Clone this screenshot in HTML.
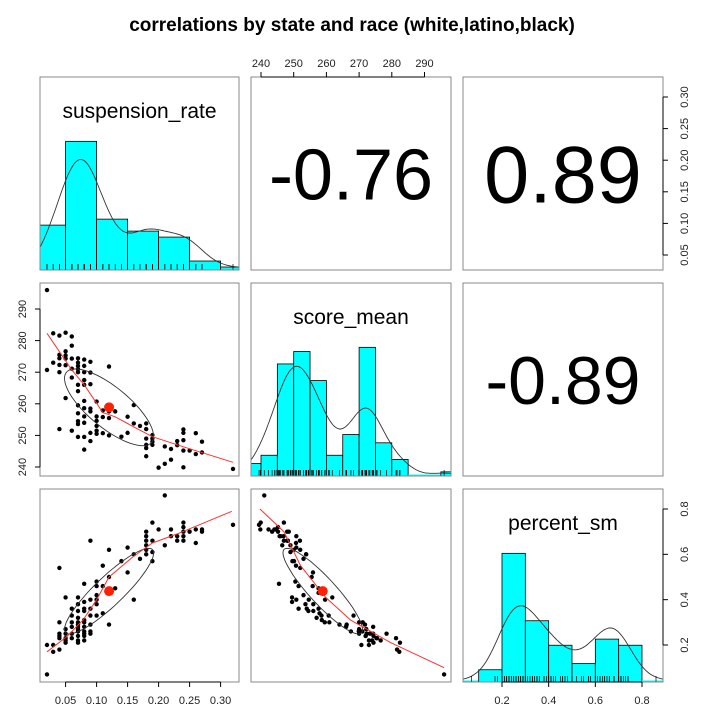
<!DOCTYPE html>
<html><head><meta charset="utf-8"><style>
html,body{margin:0;padding:0;background:#fff;}
svg{display:block;font-family:"Liberation Sans",Arial,sans-serif;}
</style></head><body>
<svg id="chart" width="703" height="714" viewBox="0 0 703 714" xmlns="http://www.w3.org/2000/svg">
<text x="352" y="31" text-anchor="middle" font-size="19" font-weight="bold" fill="#000">correlations by state and race (white,latino,black)</text>
</svg>
<script>
const susp=[0.02,0.02,0.03,0.03,0.04,0.04,0.04,0.04,0.04,0.04,0.05,0.05,0.05,0.05,0.05,0.05,0.06,0.06,0.06,0.06,0.06,0.06,
0.07,0.07,0.07,0.07,0.07,0.07,0.07,0.07,0.07,0.07,0.07,0.07,0.08,0.08,0.08,0.08,0.08,0.08,0.08,0.08,0.08,0.08,0.08,
0.09,0.09,0.09,0.09,0.09,0.09,0.09,0.10,0.10,0.10,0.10,0.10,0.10,0.11,0.11,0.11,0.12,0.12,0.12,0.12,0.13,0.14,0.15,0.15,
0.16,0.16,0.17,0.18,0.18,0.18,0.18,0.18,0.18,0.19,0.19,0.19,0.19,0.20,0.21,0.21,0.22,0.22,0.23,0.23,
0.24,0.24,0.24,0.24,0.24,0.25,0.26,0.26,0.27,0.27,0.32];
const score=[296,270.7,282.3,273,281.6,275.5,274.4,272.3,270,252,282.5,276.6,275.3,274.3,272.2,261.8,281.3,278.4,274.3,271.1,268.3,251.5,
274.4,273,272,271,270,266,264,259.5,257,254.5,253.6,249.5,274,272,270,267.5,266,260.9,258.6,256,254,249.5,245.5,
273.3,269.9,266.2,258.5,257.6,250.8,248.2,260.7,256,254.6,253,251.5,250.5,257.9,255.8,250.7,271.8,257.6,255.5,250,257.6,249.6,255.9,250.8,
259.6,253.8,253,253.8,252,249,247,246,243.4,250.1,249,248,247,239.8,246.5,241,245.7,242.3,248.2,246.9,
251.9,250.8,248.5,245.2,239.9,245.2,250.7,244.1,248,244.6,239.4];
const pct=[0.07,0.20,0.17,0.20,0.18,0.23,0.24,0.25,0.30,0.54,0.21,0.22,0.23,0.25,0.27,0.41,0.23,0.25,0.28,0.30,0.33,0.36,
0.21,0.22,0.24,0.26,0.27,0.28,0.29,0.30,0.32,0.35,0.38,0.41,0.22,0.24,0.25,0.26,0.28,0.30,0.31,0.35,0.36,0.39,0.47,
0.25,0.26,0.29,0.33,0.36,0.40,0.66,0.33,0.38,0.40,0.42,0.46,0.48,0.34,0.46,0.55,0.29,0.43,0.50,0.62,0.45,0.57,0.52,0.63,
0.40,0.60,0.58,0.60,0.62,0.64,0.66,0.68,0.70,0.57,0.61,0.66,0.74,0.71,0.64,0.86,0.68,0.71,0.66,0.68,
0.66,0.68,0.70,0.72,0.74,0.70,0.65,0.71,0.70,0.71,0.73];
const varNames=["suspension_rate","score_mean","percent_sm"];
const suspBreaks=[0,0.05,0.10,0.15,0.20,0.25,0.30,0.35];
const suspCounts=[15,43,17,13,11,3,1];
const scoreBreaks=[235,240,245,250,255,260,265,270,275,280,285,290,295,300];
const scoreCounts=[3,5,27,30,23,5,10,31,8,4,0,0,1];
const pctBreaks=[0,0.1,0.2,0.3,0.4,0.5,0.6,0.7,0.8,0.9];
const pctCounts=[0,2,21,10,6,3,7,6,0];
const corrLabels=["-0.76","0.89","-0.89"];
const loessSuspScoreX=[0.02,0.06,0.08,0.10,0.11,0.13,0.16,0.19,0.24,0.32];
const loessSuspScoreY=[282.3,270.7,266,260.2,257.2,255.9,252.7,249.6,246.4,241.5];
const loessSuspPctX=[0.02,0.052,0.078,0.10,0.12,0.159,0.19,0.23,0.318];
const loessSuspPctY=[0.17,0.237,0.31,0.40,0.50,0.59,0.65,0.69,0.79];
const loessScorePctX=[239.7,247,252.1,259.8,267.4,279.7,296];
const loessScorePctY=[0.80,0.70,0.55,0.41,0.31,0.21,0.10];
const suspTicks=[0.05,0.10,0.15,0.20,0.25,0.30];
const scoreTicks=[240,250,260,270,280,290];
const pctTicks=[0.2,0.4,0.6,0.8];

const NS="http://www.w3.org/2000/svg";
const svg=document.getElementById("chart");
function lin(a0,a1,p0,p1){return v=>p0+(v-a0)*(p1-p0)/(a1-a0);}
const X=[lin(0.05,0.30,65.6,220.6),lin(240,290,261,424.5),lin(0.2,0.8,502,642)];
const Y=[lin(0.05,0.30,255,97),lin(240,290,467,309),lin(0.2,0.8,645,509)];
const cols=[[40,239],[251,451],[463,663]];
const rows=[[77,270],[283,476],[489,682]];
const data=[susp,score,pct];
function mk(tag,attrs,parent){const e=document.createElementNS(NS,tag);for(const k in attrs)e.setAttribute(k,attrs[k]);(parent||svg).appendChild(e);return e;}
const defs=mk("defs",{});
for(let r=0;r<3;r++)for(let c=0;c<3;c++){const cp=mk("clipPath",{id:"cp"+r+c},defs);mk("rect",{x:cols[c][0],y:rows[r][0],width:cols[c][1]-cols[c][0],height:rows[r][1]-rows[r][0]},cp);}
function mean(a){return a.reduce((s,v)=>s+v,0)/a.length;}
function sd(a){const m=mean(a);return Math.sqrt(a.reduce((s,v)=>s+(v-m)*(v-m),0)/(a.length-1));}
function corr(a,b){const ma=mean(a),mb=mean(b);let s=0;for(let i=0;i<a.length;i++)s+=(a[i]-ma)*(b[i]-mb);return s/((a.length-1)*sd(a)*sd(b));}

for(let r=0;r<3;r++)for(let c=0;c<3;c++){
  const g=mk("g",{"clip-path":"url(#cp"+r+c+")"});
  
  
  const x0=cols[c][0],x1=cols[c][1],y0=rows[r][0],y1=rows[r][1];
  if(r===c){
    const brk=[suspBreaks,scoreBreaks,pctBreaks][r],cnt=[suspCounts,scoreCounts,pctCounts][r];
    const n=cnt.reduce((s,v)=>s+v,0);
    const dens=cnt.map((v,i)=>v/(n*(brk[i+1]-brk[i])));
    const top=1.5*Math.max(...dens);
    const yd=d=>y1-d/top*(y1-y0);
    dens.forEach((d,i)=>{
      const xa=X[c](brk[i]),xb=X[c](brk[i+1]);
      const b=mk("rect",{x:xa,y:yd(d)-(d===0?1.5:0),width:xb-xa,height:Math.max(y1-yd(d),0)+(d===0?1.5:0),fill:"#00ffff",stroke:d===0?"none":"#000","stroke-width":"0.8"},g);
      
      
    });
    const a=data[r],m=sd(a);
    const s=[...a].sort((p,q)=>p-q);const iqr=s[Math.floor(0.75*(s.length-1))]-s[Math.floor(0.25*(s.length-1))];
    const bw=0.9*Math.min(m,iqr/1.34)*Math.pow(a.length,-0.2);
    const lo=s[0]-3*bw,hi=s[s.length-1]+3*bw;let pts=[];
    for(let k=0;k<=200;k++){const xv=lo+(hi-lo)*k/200;let d=0;for(const v of a)d+=Math.exp(-0.5*((xv-v)/bw)**2);d/=a.length*bw*Math.sqrt(2*Math.PI);pts.push(X[c](xv).toFixed(1)+","+yd(d).toFixed(1));}
    const kl=mk("polyline",{points:pts.join(" "),fill:"none",stroke:"#333","stroke-width":"0.9"},g);
    
    
    a.forEach(v=>{const t=mk("line",{x1:X[c](v),x2:X[c](v),y1:y1,y2:y1-6,stroke:"#000","stroke-width":"0.7"},g);
      
      });
    const nm=mk("text",{x:(x0+x1)/2,y:y0+41,"text-anchor":"middle","font-size":"21",fill:"#000"},g);
    nm.textContent=varNames[r];
    
    
  } else if(r>c){
    const xa=data[c],ya=data[r];
    xa.forEach((v,i)=>{const p=mk("circle",{cx:X[c](v),cy:Y[r](ya[i]),r:2.2,fill:"#000"},g);
      
      });
    const mx=mean(xa),my=mean(ya),sx=sd(xa),sy=sd(ya),rr=corr(xa,ya);
    const th=rr!==0?Math.sign(rr)/Math.SQRT2:1/Math.SQRT2;const a1=Math.sqrt(1+rr),a2=Math.sqrt(1-rr);
    let ep=[];for(let k=0;k<=60;k++){const t=2*Math.PI*k/60;const u=Math.cos(t),w=Math.sin(t);
      const ex=u*a1*th+w*a2*(-th),ey=u*a1*th+w*a2*th;ep.push(X[c](mx+ex*sx).toFixed(1)+","+Y[r](my+ey*sy).toFixed(1));}
    const el=mk("polyline",{points:ep.join(" "),fill:"none",stroke:"#333","stroke-width":"0.9"},g);
    
    
    const lx=c===0?(r===1?loessSuspScoreX:loessSuspPctX):loessScorePctX;
    const ly=c===0?(r===1?loessSuspScoreY:loessSuspPctY):loessScorePctY;
    const lp=mk("polyline",{points:lx.map((v,i)=>X[c](v).toFixed(1)+","+Y[r](ly[i]).toFixed(1)).join(" "),fill:"none",stroke:"#ff3030","stroke-width":"1"},g);
    
    
    const md=mk("circle",{cx:X[c](mx),cy:Y[r](my),r:5,fill:"#ff2000"},g);
    
    
  } else {
    const lbl=corrLabels[r===0?c-1:2];
    const fs=[[0,72,81],[0,0,68]][r][c];
    const t=mk("text",{x:(x0+x1)/2,y:(y0+y1)/2+fs*0.36,"text-anchor":"middle","font-size":fs,fill:"#000"},g);
    t.textContent=lbl;
    
    
  }
  const bd=mk("rect",{x:x0,y:y0,width:x1-x0,height:y1-y0,fill:"none",stroke:"#888","stroke-width":"1"});
  
  
}
function axis(ticks,fmt,side,pos,sc,name){
  const g=mk("g",{});
  
  
  const p=ticks.map(sc);
  if(side==="top"||side==="bottom"){
    mk("line",{x1:p[0],x2:p[p.length-1],y1:pos,y2:pos,stroke:"#000","stroke-width":"1"},g);
    const d=side==="top"?-5:5;
    ticks.forEach((v,i)=>{mk("line",{x1:p[i],x2:p[i],y1:pos,y2:pos+d,stroke:"#000"},g);
      const t=mk("text",{x:p[i],y:side==="top"?pos-10:pos+22,"text-anchor":"middle","font-size":"11",fill:"#222"},g);t.textContent=fmt(v);});
  } else {
    mk("line",{y1:p[0],y2:p[p.length-1],x1:pos,x2:pos,stroke:"#000","stroke-width":"1"},g);
    const d=side==="left"?-5:5;
    ticks.forEach((v,i)=>{mk("line",{y1:p[i],y2:p[i],x1:pos,x2:pos+d,stroke:"#000"},g);
      const tx=side==="left"?pos-14:pos+25;
      const t=mk("text",{x:tx,y:p[i],"text-anchor":"middle","font-size":"11",fill:"#222",transform:"rotate(-90 "+tx+" "+p[i]+")"},g);t.textContent=fmt(v);});
  }
}
axis(scoreTicks,v=>String(v),"top",77,X[1],"x-axis-top-score");
axis(suspTicks,v=>v.toFixed(2),"right",663,Y[0],"y-axis-right-suspension");
axis(scoreTicks,v=>String(v),"left",40,Y[1],"y-axis-left-score");
axis(suspTicks,v=>v.toFixed(2),"bottom",682,X[0],"x-axis-bottom-suspension");
axis(pctTicks,v=>v.toFixed(1),"bottom",682,X[2],"x-axis-bottom-percent");
axis(pctTicks,v=>v.toFixed(1),"right",663,Y[2],"y-axis-right-percent");
</script>
</body></html>
